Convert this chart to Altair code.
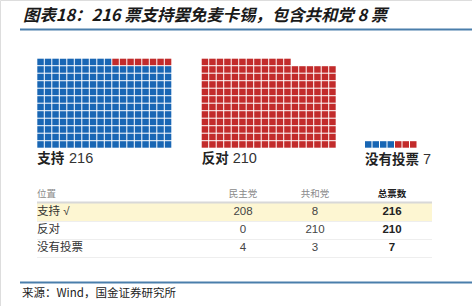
import altair as alt
import pandas as pd

# ---- data ----
title_text = "图表18：216 票支持罢免麦卡锡，包含共和党 8 票"
source_text = "来源：Wind，国金证券研究所"
categories = ["支持", "反对", "没有投票"]
dem_votes = [208, 0, 4]
rep_votes = [8, 210, 3]
totals = [216, 210, 7]
parties = ["民主党", "共和党"]
header = ["位置", "民主党", "共和党", "总票数"]
row_labels = ["支持 √", "反对", "没有投票"]

W, H = 472, 306
COLS = 18
PITCH = 7.5
GAP = 1.0
group_x0 = [37.3, 201.7, 365.0]
grid_bottom = 147.7
party_color = {"民主党": "#1866b4", "共和党": "#c22b2b"}

# waffle cells
cells = []
for g, cat in enumerate(categories):
    seq = [parties[0]] * dem_votes[g] + [parties[1]] * rep_votes[g]
    for i, p in enumerate(seq):
        col, row = i % COLS, i // COLS
        x = group_x0[g] + col * PITCH
        y = grid_bottom - row * PITCH
        cells.append({"x": x, "x2": x + PITCH - GAP, "y": y, "y2": y - (PITCH - GAP), "party": p})
cells_df = pd.DataFrame(cells)

xs = alt.Scale(domain=[0, W], nice=False, zero=False)
ys = alt.Scale(domain=[H, 0], nice=False, zero=False)
FONT = "Noto Sans CJK SC"
MIX = "Liberation Sans, Noto Sans CJK SC"


def X(f="x"):
    return alt.X(f"{f}:Q", scale=xs, axis=None)


def Y(f="y"):
    return alt.Y(f"{f}:Q", scale=ys, axis=None)


waffle = alt.Chart(cells_df).mark_rect().encode(
    x=X(), x2="x2:Q", y=Y(), y2="y2:Q",
    color=alt.Color("party:N", scale=alt.Scale(domain=parties, range=[party_color[p] for p in parties]), legend=None),
)

# group labels
lab_df = pd.DataFrame({
    "cat": categories,
    "total": [str(t) for t in totals],
    "x": group_x0,
    "xn": [69.0, 232.7, 423.0],
    "y": [159.0, 159.0, 160.0],
})
lab_cat = alt.Chart(lab_df).mark_text(align="left", baseline="middle", font=FONT, fontSize=13.5,
                                      fontWeight="bold", color="#222222").encode(x=X(), y=Y(), text="cat:N")
lab_num = alt.Chart(lab_df).mark_text(align="left", baseline="middle", font=MIX, fontSize=14.5,
                                      color="#333333").encode(x=X("xn"), y=Y(), text="total:N")

# table
hl = alt.Chart(pd.DataFrame({"x": [37], "x2": [432], "y": [203], "y2": [221]})).mark_rect(
    color="#fdf6d2").encode(x=X(), x2="x2:Q", y=Y(), y2="y2:Q")
lines_df = pd.DataFrame({"x": [37, 37, 37, 37], "x2": [432] * 4, "y": [202.5, 221.5, 239.5, 257.5],
                         "w": [2.0, 1.2, 1.2, 1.2], "c": ["#d8d8d8", "#eeeeee", "#eeeeee", "#eeeeee"]})
tlines = alt.Chart(lines_df).mark_rule().encode(
    x=X(), x2="x2:Q", y=Y(), strokeWidth=alt.StrokeWidth("w:Q", scale=None),
    color=alt.Color("c:N", scale=None))

col_x = [37, 243, 315, 392]
hdr_df = pd.DataFrame({"t": header, "x": col_x, "y": [194] * 4})
hdr_left = alt.Chart(hdr_df.iloc[:1]).mark_text(align="left", baseline="middle", font=FONT, fontSize=9.5,
                                               color="#8a8a8a").encode(x=X(), y=Y(), text="t:N")
hdr_mid = alt.Chart(hdr_df.iloc[1:3]).mark_text(align="center", baseline="middle", font=FONT, fontSize=9.5,
                                               color="#8a8a8a").encode(x=X(), y=Y(), text="t:N")
hdr_tot = alt.Chart(hdr_df.iloc[3:]).mark_text(align="center", baseline="middle", font=FONT, fontSize=9.5,
                                              fontWeight="bold", color="#222222").encode(x=X(), y=Y(), text="t:N")

row_y = [212, 230, 248]
rows_df = pd.DataFrame({"label": row_labels, "dem": [str(v) for v in dem_votes],
                        "rep": [str(v) for v in rep_votes], "tot": [str(v) for v in totals],
                        "y": row_y, "x0": col_x[0], "x1": col_x[1], "x2": col_x[2], "x3": col_x[3]})
r_lab = alt.Chart(rows_df).mark_text(align="left", baseline="middle", font=MIX, fontSize=11.5,
                                     color="#333333").encode(x=X("x0"), y=Y(), text="label:N")
r_dem = alt.Chart(rows_df).mark_text(align="center", baseline="middle", font=MIX, fontSize=11.5,
                                     color="#444444").encode(x=X("x1"), y=Y(), text="dem:N")
r_rep = alt.Chart(rows_df).mark_text(align="center", baseline="middle", font=MIX, fontSize=11.5,
                                     color="#444444").encode(x=X("x2"), y=Y(), text="rep:N")
r_tot = alt.Chart(rows_df).mark_text(align="center", baseline="middle", font=MIX, fontSize=11.5,
                                     fontWeight="bold", color="#222222").encode(x=X("x3"), y=Y(), text="tot:N")

# title, source, frame lines
title = alt.Chart(pd.DataFrame({"t": [title_text], "x": [23], "y": [16]})).mark_text(
    align="left", baseline="middle", font=FONT, fontSize=16.4, fontStyle="italic", fontWeight="bold",
    color="#1a1a1a").encode(x=X(), y=Y(), text="t:N")
source = alt.Chart(pd.DataFrame({"t": [source_text], "x": [22], "y": [294]})).mark_text(
    align="left", baseline="middle", font=FONT, fontSize=11.5, color="#222222").encode(
    x=X(), y=Y(), text="t:N")
frame = alt.Chart(pd.DataFrame({"x": [20, 20], "x2": [472, 472], "y": [29.5, 282.5]})).mark_rule(
    color="#4a7eab", strokeWidth=1.8).encode(x=X(), x2="x2:Q", y=Y())

chart = alt.layer(
    hl, tlines, waffle, lab_cat, lab_num, hdr_left, hdr_mid, hdr_tot, r_lab, r_dem, r_rep, r_tot,
    title, source, frame
).properties(width=W, height=H, padding=0, autosize=alt.AutoSizeParams(type="none")).configure_view(
    stroke=None).configure(background="white")

chart.save("out.html", embed_options={"renderer": "svg", "actions": False})
